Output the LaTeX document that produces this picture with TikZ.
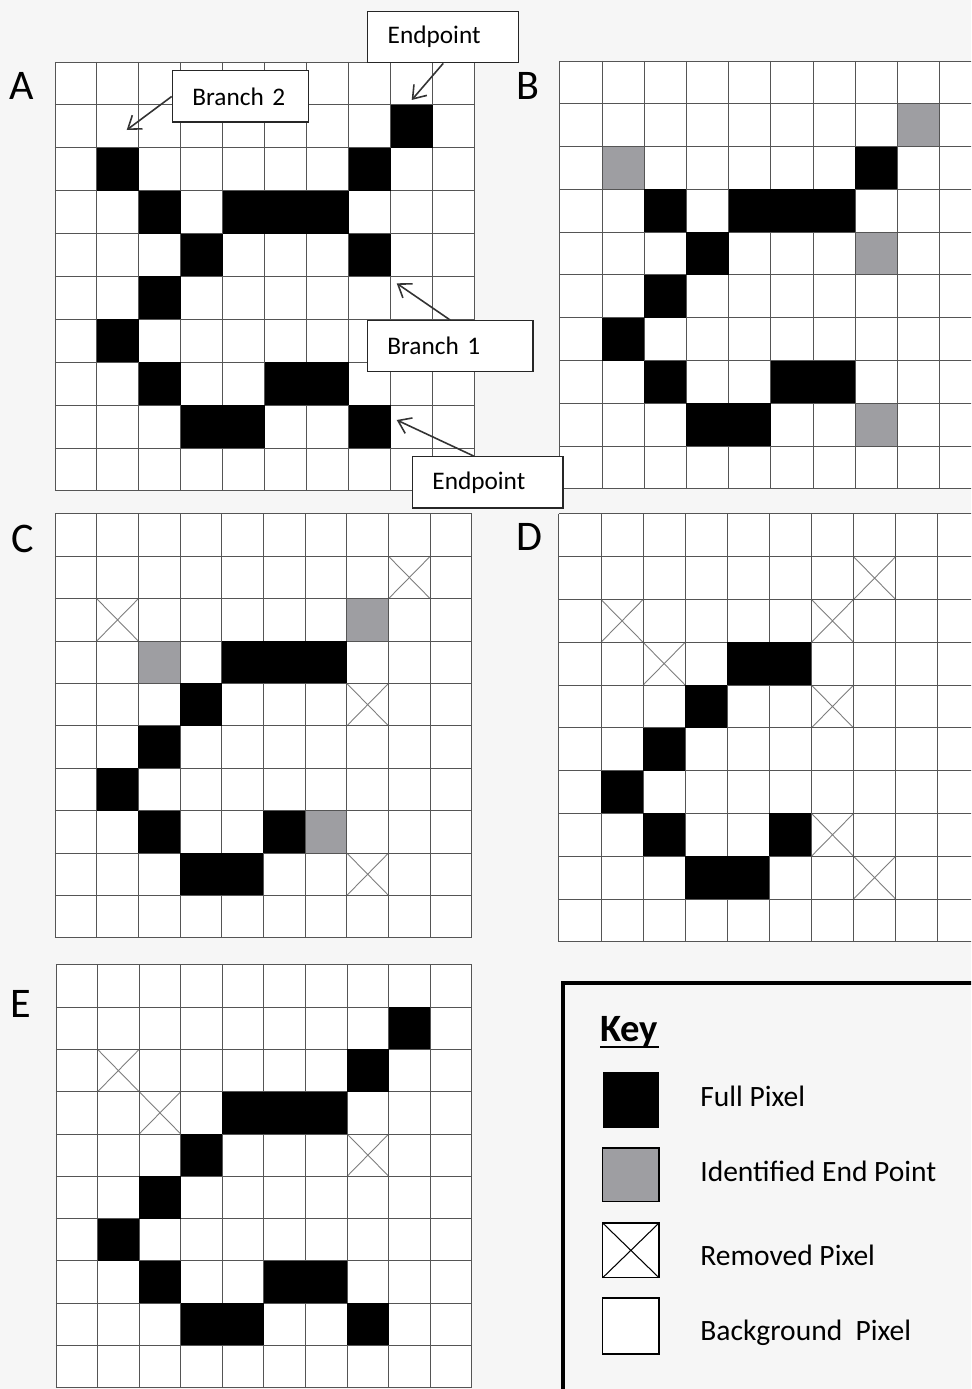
\documentclass[tikz,border=0pt]{standalone}
\usepackage{fontspec}
\setmainfont{Carlito}
\usetikzlibrary{arrows.meta}

\definecolor{pagebg}{RGB}{246,246,246}
\definecolor{endgray}{RGB}{158,158,162}
\definecolor{linegray}{RGB}{85,85,85}
\definecolor{crossgray}{RGB}{125,125,125}

\tikzset{
  gridline/.style={draw=linegray, line width=0.55pt},
  fullpix/.style={fill=black},
  endpix/.style={fill=endgray},
  gonepix/.style={draw=crossgray, line width=0.5pt},
  callout/.style={draw=black!85, line width=0.8pt, fill=white, anchor=north west, align=left,
    inner xsep=0.4cm, font=\fontsize{14.4}{17}\selectfont},
  pointer/.style={draw=black!80, line width=0.9pt, -{Straight Barb[length=2.4mm,width=3.4mm]}},
  panel/.style={anchor=base west, inner sep=0pt, font=\fontsize{24}{29}\selectfont},
  keytext/.style={anchor=base west, inner sep=0pt, font=\fontsize{16.8}{20}\selectfont},
  swatch/.style={draw=black, line width=0.6pt}
}

\newcommand{\pixelgrid}{%
  \foreach \i in {0,...,10} {\draw[gridline] (\i,0) -- (\i,10); \draw[gridline] (0,\i) -- (10,\i);}%
}

\begin{document}
\begin{tikzpicture}[x=0.02cm, y=-0.02cm]
\useasboundingbox (0,0) rectangle (971,1389);
\clip (0,0) rectangle (971,1389);
\fill[pagebg] (0,0) rectangle (971,1389);

\begin{scope}[shift={(1.10cm,-1.24cm)}, x=0.84cm, y=-0.858cm]
\fill[white] (0,0) rectangle (10,10);
\pixelgrid
\foreach \c/\r in {8/1,1/2,7/2,2/3,4/3,5/3,6/3,3/4,7/4,2/5,1/6,2/7,5/7,6/7,3/8,4/8,7/8}
  \fill[fullpix] (\c,\r) rectangle ++(1,1);
\end{scope}

\begin{scope}[shift={(11.20cm,-1.22cm)}, x=0.844cm, y=-0.856cm]
\fill[white] (0,0) rectangle (10,10);
\foreach \c/\r in {8/1,1/2,7/4,7/8}
  \fill[endpix] (\c,\r) rectangle ++(1,1);
\pixelgrid
\foreach \c/\r in {7/2,2/3,4/3,5/3,6/3,3/4,2/5,1/6,2/7,5/7,6/7,3/8,4/8}
  \fill[fullpix] (\c,\r) rectangle ++(1,1);
\end{scope}

\begin{scope}[shift={(1.10cm,-10.28cm)}, x=0.834cm, y=-0.848cm]
\fill[white] (0,0) rectangle (10,10);
\foreach \c/\r in {7/2,2/3,6/7}
  \fill[endpix] (\c,\r) rectangle ++(1,1);
\foreach \c/\r in {8/1,1/2,7/4,7/8}
  \draw[gonepix] (\c,\r) -- ++(1,1) (\c,\r+1) -- ++(1,-1);
\pixelgrid
\foreach \c/\r in {4/3,5/3,6/3,3/4,2/5,1/6,2/7,5/7,3/8,4/8}
  \fill[fullpix] (\c,\r) rectangle ++(1,1);
\end{scope}

\begin{scope}[shift={(11.18cm,-10.28cm)}, x=0.842cm, y=-0.856cm]
\fill[white] (0,0) rectangle (10,10);
\foreach \c/\r in {7/1,1/2,6/2,2/3,6/4,6/7,7/8}
  \draw[gonepix] (\c,\r) -- ++(1,1) (\c,\r+1) -- ++(1,-1);
\pixelgrid
\foreach \c/\r in {4/3,5/3,3/4,2/5,1/6,2/7,5/7,3/8,4/8}
  \fill[fullpix] (\c,\r) rectangle ++(1,1);
\end{scope}

\begin{scope}[shift={(1.12cm,-19.30cm)}, x=0.832cm, y=-0.846cm]
\fill[white] (0,0) rectangle (10,10);
\foreach \c/\r in {1/2,2/3,7/4}
  \draw[gonepix] (\c,\r) -- ++(1,1) (\c,\r+1) -- ++(1,-1);
\pixelgrid
\foreach \c/\r in {8/1,7/2,4/3,5/3,6/3,3/4,2/5,1/6,2/7,5/7,6/7,3/8,4/8,7/8}
  \fill[fullpix] (\c,\r) rectangle ++(1,1);
\end{scope}

\node[panel] (panA) at (9,100) {A};
\node[panel] (panB) at (516,100) {B};
\node[panel] (panC) at (11,552) {C};
\node[panel] (panD) at (516,550) {D};
\node[panel] (panE) at (10,1017) {E};

\node[callout, minimum width=3.02cm, minimum height=1.02cm, text width=2.22cm] (endA) at (367,11) {Endpoint};
\node[callout, minimum width=2.72cm, minimum height=1.03cm, text width=1.92cm] (branchB) at (171.7,70) {Branch 2};
\node[callout, minimum width=3.31cm, minimum height=1.02cm, text width=2.51cm] (branchA) at (366.7,320) {Branch 1};
\node[callout, minimum width=3.01cm, minimum height=1.03cm, text width=2.21cm] (endB) at (411.7,456) {Endpoint};

\coordinate (tipEndA) at (411.7,100);
\coordinate (tipBranchB) at (126.7,130);
\coordinate (tipBranchA) at (396.7,283.3);
\coordinate (tipEndB) at (396.7,420);
\draw[pointer] (endA.south) -- (tipEndA);
\draw[pointer] (branchB.west) -- (tipBranchB);
\draw[pointer] (branchA.north) -- (tipBranchA);
\draw[pointer] (endB.118) -- (tipEndB);

\draw[line width=2.3pt] (563,983) rectangle (990,1400);
\node[anchor=base west, inner sep=0pt, font=\bfseries\fontsize{22}{26}\selectfont] (keyhead) at (600,1041.7) {Key};
\draw[line width=1.2pt] ([yshift=-2.8pt]keyhead.base west) -- ([yshift=-2.8pt]keyhead.base east);

\fill[black] (602.7,1071.7) rectangle (659,1128);
\draw[swatch, fill=endgray] (602.7,1148) rectangle (659,1201.7);
\draw[swatch, fill=white] (602.7,1223) rectangle (659,1277.7);
\draw[swatch] (602.7,1223) -- (659,1277.7) (602.7,1277.7) -- (659,1223);
\draw[swatch, fill=white] (602.7,1298) rectangle (659,1354);

\node[keytext] (keyFull) at (700,1106.7) {Full Pixel};
\node[keytext] (keyEnd) at (700,1181.7) {Identified End Point};
\node[keytext] (keyGone) at (700,1265) {Removed Pixel};
\node[keytext] (keyBack) at (700,1340) {Background\hspace{0.45em}Pixel};
\end{tikzpicture}
\end{document}
